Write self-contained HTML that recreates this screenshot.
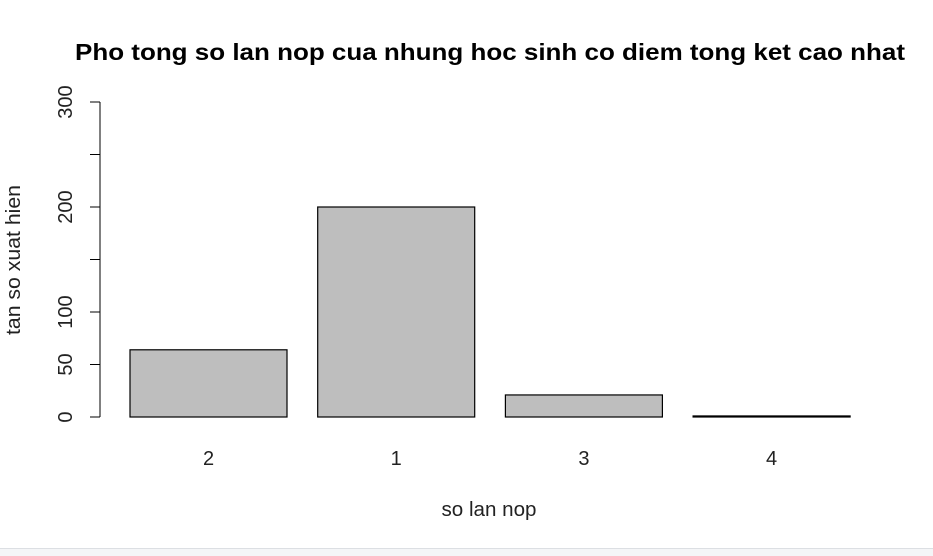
<!DOCTYPE html>
<html><head><meta charset="utf-8"><style>
html,body{margin:0;padding:0;background:#fff;width:933px;height:556px;overflow:hidden}
svg text{font-family:"Liberation Sans",Arial,sans-serif}
</style></head><body>
<svg id="chart" width="933" height="556" xmlns="http://www.w3.org/2000/svg">
<rect x="0" y="548" width="933" height="8" fill="#f4f5f7"/>
<line x1="0" y1="548.5" x2="933" y2="548.5" stroke="#dcdfe3"/>
<text x="490" y="60" text-anchor="middle" font-size="23" font-weight="bold" fill="#000" textLength="830" lengthAdjust="spacingAndGlyphs">Pho tong so lan nop cua nhung hoc sinh co diem tong ket cao nhat</text>
<text x="489" y="516" text-anchor="middle" font-size="20" fill="#222" textLength="95" lengthAdjust="spacingAndGlyphs">so lan nop</text>
<text transform="translate(20,260) rotate(-90)" text-anchor="middle" font-size="20" fill="#222" textLength="150" lengthAdjust="spacingAndGlyphs">tan so xuat hien</text>
<g id="plot"></g>
</svg>
<script>
const categories = ["2","1","3","4"];
const values = [64, 200, 21, 1];
const yTicks = [0, 50, 100, 150, 200, 250, 300];
const yTickLabels = ["0","50","100","","200","","300"];

const svg = document.getElementById('plot');
const NS = 'http://www.w3.org/2000/svg';
const y = v => 417 - v * 1.05;
const xLeft = i => 130 + i * 187.7;
const barW = 157;
function mk(tag, attrs){const e=document.createElementNS(NS,tag);for(const k in attrs)e.setAttribute(k,attrs[k]);svg.appendChild(e);return e;}

const axis = mk('line',{x1:100,y1:y(0),x2:100,y2:y(300),stroke:'#000','stroke-width':1});


yTicks.forEach((t,i)=>{
  const tk = mk('line',{x1:90,y1:y(t),x2:100,y2:y(t),stroke:'#000','stroke-width':1});
  
  
  if (yTickLabels[i]) {
    const lb = mk('text',{transform:`translate(72,${y(t)}) rotate(-90)`,'text-anchor':'middle','font-size':20,fill:'#222'});
    lb.textContent = yTickLabels[i];
    
    
  }
});
categories.forEach((c,i)=>{
  const x0 = xLeft(i);
  const h = Math.max(values[i]*1.05, 0.5);
  const b = mk('rect',{x:x0,y:y(values[i]),width:barW,height:h,fill:'#bebebe',stroke:'#000','stroke-width':1.2});
  
  
  const lb = mk('text',{x:x0+barW/2,y:465,'text-anchor':'middle','font-size':20,fill:'#222'});
  lb.textContent = c;
  
  
});
</script>
</body></html>
